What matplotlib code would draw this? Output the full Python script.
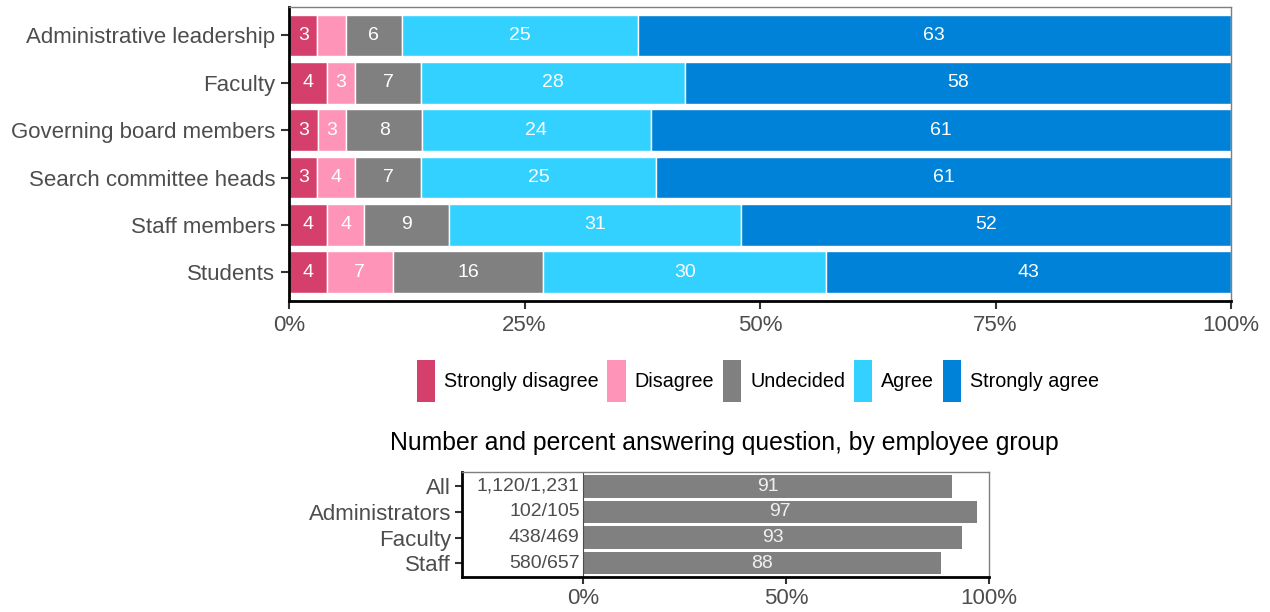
import numpy as np
import matplotlib
matplotlib.use("Agg")
import matplotlib.pyplot as plt
from matplotlib.patches import Patch

plt.rcParams['font.family'] = ['Liberation Sans', 'DejaVu Sans']

# --- agreement by group (percent) ---
groups = ["Administrative leadership", "Faculty", "Governing board members",
          "Search committee heads", "Staff members", "Students"]
levels = ["Strongly disagree", "Disagree", "Undecided", "Agree", "Strongly agree"]
colors = ["#D43F6C", "#FE95B9", "#808080", "#33D1FF", "#0082D8"]

strongly_disagree = [3, 4, 3, 3, 4, 4]
disagree = [3, 3, 3, 4, 4, 7]
undecided = [6, 7, 8, 7, 9, 16]
agree = [25, 28, 24, 25, 31, 30]
strongly_agree = [63, 58, 61, 61, 52, 43]
# segments drawn without a number in the original
unlabeled = [("Administrative leadership", "Disagree")]

# --- response rate by employee group ---
emp_groups = ["All", "Administrators", "Faculty", "Staff"]
answered = [1120, 102, 438, 580]
total = [1231, 105, 469, 657]

TICK_GREY = "#4D4D4D"


def style_frame(a):
    for s in ["top", "right"]:
        a.spines[s].set_color("#7F7F7F")
        a.spines[s].set_linewidth(1)
    for s in ["left", "bottom"]:
        a.spines[s].set_color("black")
        a.spines[s].set_linewidth(2)


fig = plt.figure(figsize=(12.7, 6.12), dpi=100)

# top stacked chart
ax = fig.add_axes([0.2276, 0.5087, 0.7417, 0.4799])
vals = np.array([strongly_disagree, disagree, undecided, agree, strongly_agree], dtype=float)
shares = vals / vals.sum(axis=0) * 100
ypos = np.arange(len(groups))[::-1]
left = np.zeros(len(groups))
for i, lev in enumerate(levels):
    ax.barh(ypos, shares[i], left=left, height=0.88, color=colors[i],
            edgecolor="white", linewidth=1)
    for j, g in enumerate(groups):
        if (g, lev) in unlabeled:
            continue
        ax.text(left[j] + shares[i][j] / 2, ypos[j], f"{int(vals[i][j])}",
                ha="center", va="center", color="white", fontsize=14)
    left += shares[i]

ax.set_xlim(0, 100)
ax.set_ylim(-0.6, len(groups) - 0.4)
ax.set_yticks(ypos)
ax.set_yticklabels(groups)
ax.set_xticks([0, 25, 50, 75, 100])
ax.set_xticklabels(["0%", "25%", "50%", "75%", "100%"])
ax.tick_params(axis="both", labelsize=16, labelcolor=TICK_GREY,
               length=6, width=1.5, color="#333333", pad=4)
style_frame(ax)

handles = [Patch(facecolor=c, edgecolor="none", label=l) for c, l in zip(colors, levels)]
fig.legend(handles=handles, loc="center", bbox_to_anchor=(758 / 1270, 1 - 381 / 612),
           ncol=5, frameon=False, fontsize=14.2, handlelength=0.93, handleheight=2.86,
           handletextpad=0.45, columnspacing=0.45, borderaxespad=0)

fig.text(724 / 1270, 1 - 443 / 612,
         "Number and percent answering question, by employee group",
         ha="center", va="center", fontsize=17.8, color="black")

# bottom response-rate chart
ax2 = fig.add_axes([0.364, 0.0577, 0.4147, 0.1715])
pct = np.array(answered) / np.array(total) * 100
ypos2 = np.arange(len(emp_groups))[::-1]
ax2.barh(ypos2, pct, height=0.88, color="#808080")
ax2.axvline(0, color=TICK_GREY, linewidth=0.8)
for y, p, a, t in zip(ypos2, pct, answered, total):
    ax2.text(p / 2, y, f"{p:.0f}", ha="center", va="center", color="#F0F0F0", fontsize=14)
    ax2.text(-0.8, y, f"{a:,}/{t:,}", ha="right", va="center", color=TICK_GREY, fontsize=14)

ax2.set_xlim(-29.7, 100)
ax2.set_ylim(-0.53, len(emp_groups) - 0.43)
ax2.set_yticks(ypos2)
ax2.set_yticklabels(emp_groups)
ax2.set_xticks([0, 50, 100])
ax2.set_xticklabels(["0%", "50%", "100%"])
ax2.tick_params(axis="both", labelsize=16, labelcolor=TICK_GREY,
                length=5, width=1.5, color="#333333", pad=3)
style_frame(ax2)

fig.savefig("out.png", dpi=100)
